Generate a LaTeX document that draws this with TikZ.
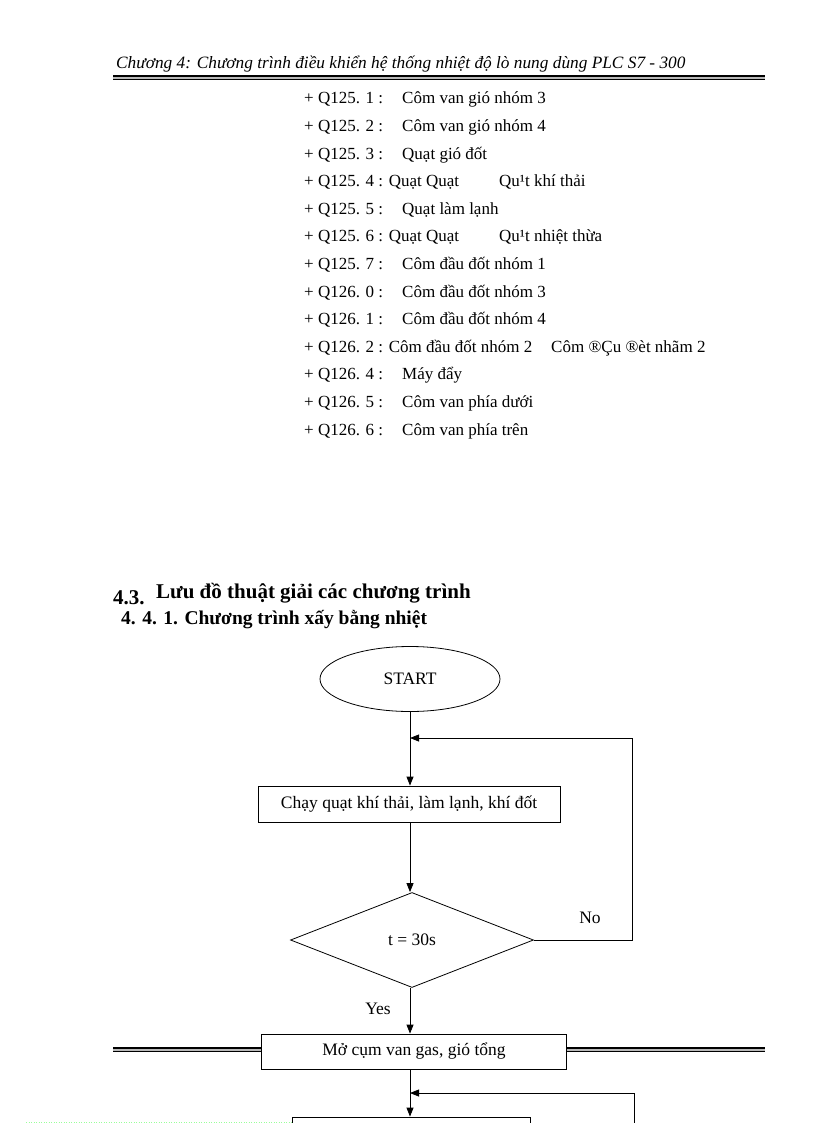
\documentclass[tikz,border=0pt]{standalone}
\usepackage{fontspec}
\setmainfont{Liberation Serif}
\usetikzlibrary{shapes.geometric,arrows.meta,positioning}

\tikzset{
  listtxt/.style={anchor=base west, inner sep=0pt, font=\fontsize{17}{20}\selectfont},
  flowtxt/.style={font=\fontsize{17.5}{21}\selectfont},
  stepbox/.style={draw, rectangle, fill=white, inner sep=0pt, line width=0.8pt, flowtxt},
  flow/.style={line width=0.8pt, -{Triangle[length=9pt,width=7pt]}},
  plain/.style={line width=0.8pt}
}

\begin{document}
\begin{tikzpicture}[x=1pt,y=-1pt]
    \useasboundingbox (0,0) rectangle (816,1123);
    % header
    \node [anchor=base west, inner sep=0pt, font=\fontsize{17.3}{20}\selectfont\itshape] (header)
        at (116,69) {Chương 4: Chương trình điều khiển hệ thống nhiệt độ lò nung dùng PLC S7 - 300};
    \fill [gray!55] (113,76) rectangle (765,79.5);
    \draw [line width=1.6pt] (113,76) -- (765,76);
    \draw [line width=0.6pt] (113,79.5) -- (765,79.5);
    % output list
    \node [listtxt] (q1a) at (304,104.0) {+ Q125. 1 :};
    \node [listtxt] (q1b) at (402,104.0) {Côm van gió nhóm 3};
    \node [listtxt] (q2a) at (304,131.6) {+ Q125. 2 :};
    \node [listtxt] (q2b) at (402,131.6) {Côm van gió nhóm 4};
    \node [listtxt] (q3a) at (304,159.2) {+ Q125. 3 :};
    \node [listtxt] (q3b) at (402,159.2) {Quạt gió đốt};
    \node [listtxt] (q4a) at (304,186.7) {+ Q125. 4 : Quạt Quạt};
    \node [listtxt] (q4b) at (499,186.7) {Qu¹t khí thải};
    \node [listtxt] (q5a) at (304,214.3) {+ Q125. 5 :};
    \node [listtxt] (q5b) at (402,214.3) {Quạt làm lạnh};
    \node [listtxt] (q6a) at (304,241.9) {+ Q125. 6 : Quạt Quạt};
    \node [listtxt] (q6b) at (499,241.9) {Qu¹t nhiệt thừa};
    \node [listtxt] (q7a) at (304,269.5) {+ Q125. 7 :};
    \node [listtxt] (q7b) at (402,269.5) {Côm đầu đốt nhóm 1};
    \node [listtxt] (q8a) at (304,297.1) {+ Q126. 0 :};
    \node [listtxt] (q8b) at (402,297.1) {Côm đầu đốt nhóm 3};
    \node [listtxt] (q9a) at (304,324.6) {+ Q126. 1 :};
    \node [listtxt] (q9b) at (402,324.6) {Côm đầu đốt nhóm 4};
    \node [listtxt] (q10a) at (304,352.2) {+ Q126. 2 : Côm đầu đốt nhóm 2};
    \node [listtxt] (q10b) at (551,352.2) {Côm ®Çu ®èt nhãm 2};
    \node [listtxt] (q11a) at (304,379.8) {+ Q126. 4 :};
    \node [listtxt] (q11b) at (402,379.8) {Máy đẩy};
    \node [listtxt] (q12a) at (304,407.4) {+ Q126. 5 :};
    \node [listtxt] (q12b) at (402,407.4) {Côm van phía dưới};
    \node [listtxt] (q13a) at (304,435.0) {+ Q126. 6 :};
    \node [listtxt] (q13b) at (402,435.0) {Côm van phía trên};
    % headings
    \node [anchor=base west, inner sep=0pt, font=\fontsize{21}{24}\selectfont\bfseries] (secnum)
        at (113,604) {4.3.};
    \node [anchor=base west, inner sep=0pt, font=\fontsize{21}{24}\selectfont\bfseries] (sectitle)
        at (156,598) {Lưu đồ thuật giải các chương trình};
    \node [anchor=base west, inner sep=0pt, font=\fontsize{19.5}{23}\selectfont\bfseries] (subsec)
        at (121,624) {4. 4. 1. Chương trình xấy bằng nhiệt};
    % flowchart
    \node [ellipse, draw, line width=0.8pt, minimum width=180, minimum height=65, flowtxt]
        (start) at (410,679) {START};
    \node [stepbox, minimum width=302, minimum height=36] (fans) at (409,804)
        {Chạy quạt khí thải, làm lạnh, khí đốt};
    \node [diamond, draw, line width=0.8pt, inner sep=0pt, minimum width=243, minimum height=95,
           flowtxt] (check) at (412,940) {t = 30s};
    \node [flowtxt] (no) at (590,918) {No};
    \node [flowtxt] (yes) at (378,1009) {Yes};
    % footer rule behind the box
    \fill [gray!55] (113,1048) rectangle (765,1051.5);
    \draw [line width=1.2pt] (113,1048) -- (765,1048);
    \draw [line width=1.2pt] (113,1051.5) -- (765,1051.5);
    \node [stepbox, minimum width=305, minimum height=35] (valves) at (414,1051.5)
        {Mở cụm van gas, gió tổng};
    \node [stepbox, minimum width=238, minimum height=36] (next) at (411,1135) {};
    \coordinate (join1) at (410,738);
    \coordinate (loop1) at (632,738);
    \coordinate (join2) at (410,1093);
    \coordinate (loop2) at (634,1093);
    \coordinate (loop2end) at (634,1123);
    \draw [flow] (start.south -| join1) -- (fans.north -| join1);
    \draw [flow] (fans.south -| join1) -- (check.north -| join1);
    \draw [flow] (check.east) -| (loop1) -- (join1);
    \draw [flow] (check.south -| join1) -- (valves.north -| join1);
    \draw [flow] (valves.south -| join2) -- (next.north -| join2);
    \draw [flow] (loop2end) -- (loop2) -- (join2);
    \draw [green!40, dotted, line width=0.5pt] (26,1122) -- (293,1122);
\end{tikzpicture}
\end{document}
